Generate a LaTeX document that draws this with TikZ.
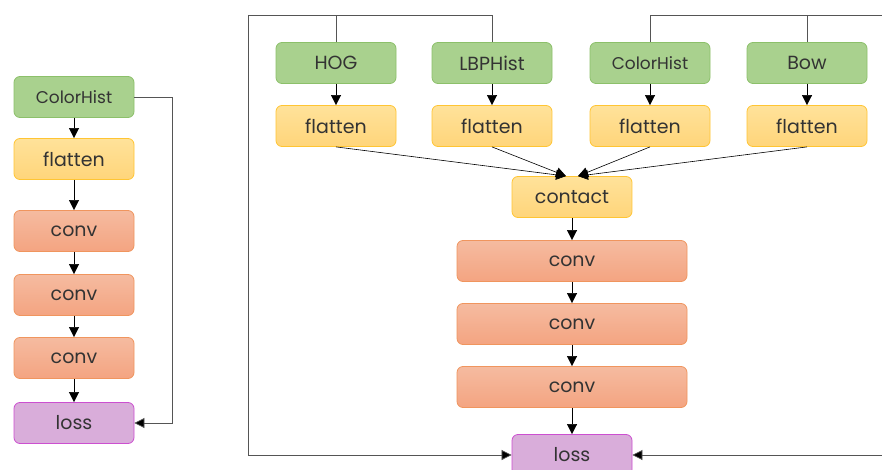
\documentclass[tikz,border=0pt]{standalone}
\usepackage{fontspec}
\setmainfont{Poppins}
\usetikzlibrary{arrows.meta}

\definecolor{featfill}{HTML}{A9D18E}
\definecolor{featline}{HTML}{8CC06A}
\definecolor{flattop}{HTML}{FFE29A}
\definecolor{flatbot}{HTML}{FFD57A}
\definecolor{flatline}{HTML}{FFC533}
\definecolor{convtop}{HTML}{F5BBA0}
\definecolor{convbot}{HTML}{F4A481}
\definecolor{convline}{HTML}{F0955E}
\definecolor{lossfill}{HTML}{D9ADDA}
\definecolor{lossline}{HTML}{CC4FD0}
\definecolor{wire}{HTML}{555555}
\definecolor{txt}{HTML}{333333}

\begin{document}
\begin{tikzpicture}[x=1pt,y=-1pt,>={Triangle[length=10pt,width=10pt]},
	box/.style={rounded corners=6pt,minimum width=120pt,minimum height=41pt,inner sep=0pt,
		text=txt,font=\fontsize{19}{19}\selectfont,line width=0.8pt},
	feat/.style={box,fill=featfill,draw=featline},
	flat/.style={box,top color=flattop,bottom color=flatbot,draw=flatline},
	convbox/.style={box,top color=convtop,bottom color=convbot,draw=convline},
	lossbox/.style={box,fill=lossfill,draw=lossline},
	small/.style={font=\fontsize{17}{17}\selectfont},
	link/.style={->,black,line width=0.6pt},
	wirelink/.style={wire,line width=0.7pt,>={Triangle[length=10pt,width=10pt,fill=black]}}]
	
	\clip (0,0) rectangle (882,470);
	\fill[white] (0,0) rectangle (882,470);
	
	% single feature branch
	\node[feat,small] (ch0) at (74,97) {ColorHist};
	\node[flat] (fl0) at (74,159) {flatten};
	\node[convbox] (cva) at (74,231) {conv};
	\node[convbox] (cvb) at (74,295) {conv};
	\node[convbox] (cvc) at (74,358) {conv};
	\node[lossbox] (ls0) at (74,423) {loss};
	
	\draw[link] (ch0) -- (fl0);
	\draw[link] (fl0) -- (cva);
	\draw[link] (cva) -- (cvb);
	\draw[link] (cvb) -- (cvc);
	\draw[link] (cvc) -- (ls0);
	\draw[wirelink,->] (ch0.east) -- (172,97) -- (172,423) -- (ls0.east);
	
	% fused features
	\node[feat] (hog) at (336,63) {HOG};
	\node[feat] (lbp) at (492,63) {LBPHist};
	\node[feat,small] (ch) at (650,63) {ColorHist};
	\node[feat] (bow) at (807,63) {Bow};
	
	\node[flat] (flh) at (336,126) {flatten};
	\node[flat] (fll) at (492,126) {flatten};
	\node[flat] (flc) at (650,126) {flatten};
	\node[flat] (flb) at (807,126) {flatten};
	
	\node[flat] (cat) at (572,197) {contact};
	\node[convbox,minimum width=230pt] (cv1) at (572,261) {conv};
	\node[convbox,minimum width=230pt] (cv2) at (572,324) {conv};
	\node[convbox,minimum width=230pt] (cv3) at (572,387) {conv};
	\node[lossbox] (ls) at (572,455) {loss};
	
	\draw[link] (hog) -- (flh);
	\draw[link] (lbp) -- (fll);
	\draw[link] (ch) -- (flc);
	\draw[link] (bow) -- (flb);
	
	\draw[link] (flh.south) -- ([xshift=-6pt]cat.north);
	\draw[link] (fll.south) -- ([xshift=-6pt]cat.north);
	\draw[link] (flc.south) -- ([xshift=6pt]cat.north);
	\draw[link] (flb.south) -- ([xshift=6pt]cat.north);
	
	\draw[link] (cat) -- (cv1);
	\draw[link] (cv1) -- (cv2);
	\draw[link] (cv2) -- (cv3);
	\draw[link] (cv3) -- (ls);
	
	% skip connections to the loss
	\coordinate (tl) at (248,15);
	\coordinate (tr) at (890,15);
	\draw[wirelink] (hog.north) |- (tl);
	\draw[wirelink] (lbp.north) |- (tl);
	\draw[wirelink,->] (tl) |- (ls.west);
	\draw[wirelink] (ch.north) |- (tr);
	\draw[wirelink] (bow.north) |- (tr);
	\draw[wirelink,->] (tr) |- (ls.east);
\end{tikzpicture}
\end{document}
